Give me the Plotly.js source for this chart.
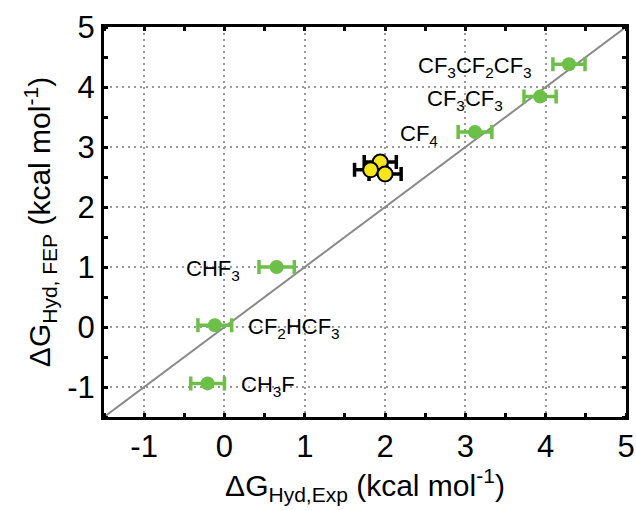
<!DOCTYPE html>
<html><head><meta charset="utf-8">
<script src="https://cdn.plot.ly/plotly-3.0.1.min.js"></script>
<style>html,body{margin:0;padding:0;background:#fff}</style>
</head><body><div id="chart" style="width:636px;height:510px"></div>
<script>
// Green molecules (experimental vs FEP)
const names = ["CF<sub>3</sub>CF<sub>2</sub>CF<sub>3</sub>", "CF<sub>3</sub>CF<sub>3</sub>", "CF<sub>4</sub>", "CHF<sub>3</sub>", "CF<sub>2</sub>HCF<sub>3</sub>", "CH<sub>3</sub>F"];
const expX = [4.29, 3.93, 3.12, 0.65, -0.12, -0.21];
const fepY = [4.38, 3.84, 3.25, 1.00, 0.03, -0.94];
const expErr = [0.20, 0.20, 0.21, 0.22, 0.21, 0.21];
const labelSide = ["left", "left", "left", "left", "right", "right"];
// Yellow points
const yelX = [1.94, 1.82, 2.00];
const yelY = [2.75, 2.62, 2.55];
const yelErr = [0.20, 0.20, 0.20];
// Diagonal
const diagX = [-1.5, 5];
const diagY = [-1.5, 5];
const tickVals = [-1, 0, 1, 2, 3, 4, 5];

const font = "Liberation Sans, Arial, sans-serif";
const traces = [
  {x: diagX, y: diagY, mode: "lines", line: {color: "#8a8a8a", width: 2}, hoverinfo: "skip"},
  {x: expX, y: fepY, mode: "markers", type: "scatter",
   marker: {color: "#6cbf47", size: 14},
   error_x: {type: "data", array: expErr, visible: true, color: "#6cbf47", thickness: 3.5, width: 7}},
  {x: yelX, y: yelY, mode: "markers", type: "scatter",
   marker: {color: "#f7e61b", size: 15, line: {color: "#000", width: 2}},
   error_x: {type: "data", array: yelErr, visible: true, color: "#000", thickness: 3.5, width: 7}}
];
const annotations = names.map((n, i) => ({
  x: expX[i], y: fepY[i], xref: "x", yref: "y", text: n, showarrow: false,
  xanchor: labelSide[i] === "left" ? "right" : "left", yanchor: "middle",
  xshift: labelSide[i] === "left" ? -35 : 31, yshift: -3,
  font: {family: font, size: 22, color: "#000"}
}));
const axBase = {
  showgrid: true, gridcolor: "#9a9a9a", griddash: "2px,4px", gridwidth: 2,
  zeroline: false, showline: true, linecolor: "#000", linewidth: 3, mirror: "allticks",
  ticks: "", tickvals: tickVals, ticktext: tickVals.map(String),
  tickfont: {family: font, size: 31, color: "#000"},
  minor: {dtick: 0.5, tick0: 0.5, ticks: "inside", ticklen: 4, tickwidth: 3, tickcolor: "#000", showgrid: false}
};
const layout = {
  width: 636, height: 510, showlegend: false,
  paper_bgcolor: "#fff", plot_bgcolor: "#fff",
  margin: {l: 104, r: 10, t: 27, b: 93},
  xaxis: Object.assign({}, axBase, {range: [-1.5, 5],
    title: {text: "ΔG<sub>Hyd,Exp</sub> (kcal mol<sup>-1</sup>)", font: {family: font, size: 30, color: "#000"}, standoff: 6}}),
  yaxis: Object.assign({}, axBase, {range: [-1.5, 5],
    title: {text: "ΔG<sub>Hyd, FEP</sub> (kcal mol<sup>-1</sup>)", font: {family: font, size: 30, color: "#000"}, standoff: 8}}),
  annotations: annotations
};
Plotly.newPlot("chart", traces, layout, {staticPlot: true, displayModeBar: false});
</script></body></html>
